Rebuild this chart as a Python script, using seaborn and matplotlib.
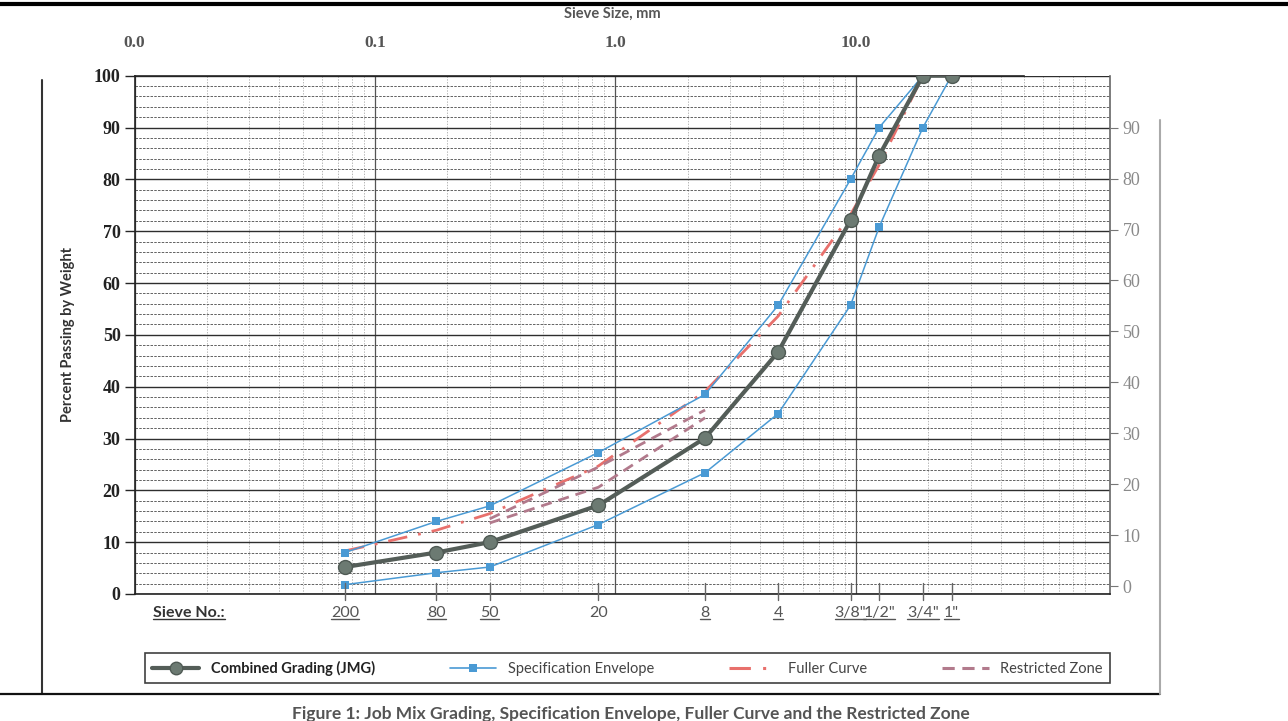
import numpy as np
import pandas as pd
import seaborn as sns
import matplotlib.pyplot as plt
from matplotlib.lines import Line2D
from matplotlib.ticker import FixedLocator, NullFormatter, LogLocator

# sieve data (size in mm, label on chart)
sieve_labels = ['200', '80', '50', '20', '8', '4', '3/8"', '1/2"', '3/4"', '1"']
sieve_mm = [0.075, 0.18, 0.3, 0.85, 2.36, 4.75, 9.5, 12.5, 19.0, 25.0]
sieve_underlined = [True, True, True, False, True, True, True, True, True, True]

# percent passing
jmg = [5.2, 8.0, 10.0, 17.1, 30.1, 46.7, 72.1, 84.6, 100, 100]
spec_upper = [8.0, 14.0, 17.0, 27.3, 38.5, 55.7, 80.0, 90.0, 100]
spec_lower = [1.8, 4.1, 5.2, 13.4, 23.4, 34.8, 55.7, 70.8, 90.0, 100]
fuller = [8.3, 12.3, 15.5, 24.7, 39.1, 53.6, 73.2, 82.8, 100]
rz_mm = [0.3, 0.85, 2.36]
rz_upper = [14.5, 24.5, 35.5]
rz_lower = [13.7, 20.6, 34.0]

top_ticks = [0.01, 0.1, 1.0, 10.0]
top_labels = ['0.0', '0.1', '1.0', '10.0']

jmg_col = '#545d58'
spec_col = '#4a9ad4'
fuller_col = '#e8706c'
rz_col = '#b27a8c'

sns.set_style('white')
plt.rcParams['font.family'] = ['Lato', 'DejaVu Sans']

fig = plt.figure(figsize=(12.88, 7.21), dpi=100)
ax = fig.add_axes([134.5 / 1288, 1 - 594 / 721, (1110 - 134.5) / 1288, (594 - 75.7) / 721])
ax.set_xscale('log')
ax.set_xlim(0.01, 114)
ax.set_ylim(0, 100)

# grid
ax.set_yticks(np.arange(0, 101, 10))
ax.yaxis.set_minor_locator(FixedLocator(np.arange(0, 101, 2)))
ax.grid(True, which='major', axis='y', color='#2e2e2e', lw=1.0, ls='-')
ax.grid(True, which='minor', axis='y', color='#4a4a4a', lw=0.6, ls=(0, (3, 1.5)))
ax.xaxis.set_major_locator(FixedLocator([0.1, 1, 10]))
ax.xaxis.set_minor_locator(LogLocator(base=10, subs=np.arange(2, 10), numticks=20))
ax.grid(True, which='major', axis='x', color='#555555', lw=0.9, ls='-')
ax.grid(True, which='minor', axis='x', color='#9a9a9a', lw=0.5, ls=(0, (2, 2)))
ax.set_axisbelow(True)

# curves
sns.lineplot(x=sieve_mm[:len(spec_upper)], y=spec_upper, ax=ax, color=spec_col, lw=1.1,
             marker='s', markersize=6, markeredgewidth=0, sort=False, zorder=4)
sns.lineplot(x=sieve_mm, y=spec_lower, ax=ax, color=spec_col, lw=1.1,
             marker='s', markersize=6, markeredgewidth=0, sort=False, zorder=4)
sns.lineplot(x=sieve_mm[:len(fuller)], y=fuller, ax=ax, color=fuller_col, lw=2.0,
             linestyle=(0, (7, 4, 1, 4)), sort=False, zorder=3)
sns.lineplot(x=rz_mm, y=rz_upper, ax=ax, color=rz_col, lw=2.0,
             linestyle=(0, (4, 2.5)), sort=False, zorder=3)
sns.lineplot(x=rz_mm, y=rz_lower, ax=ax, color=rz_col, lw=2.0,
             linestyle=(0, (4, 2.5)), sort=False, zorder=3)
sns.lineplot(x=sieve_mm, y=jmg, ax=ax, color=jmg_col, lw=3.0, marker='o', markersize=10,
             markerfacecolor='#6c7a72', markeredgecolor='#4f5a54', markeredgewidth=1,
             sort=False, zorder=5)

# axes styling
for s in ['left', 'bottom', 'top', 'right']:
    ax.spines[s].set_color('#222222')
    ax.spines[s].set_linewidth(1.2)
ax.spines['top'].set_bounds(0.01, 50)
ax.spines['right'].set_color('#666666')

ax.set_yticklabels([str(v) for v in range(0, 101, 10)], family='Liberation Serif',
                   fontweight='bold', fontsize=13, color='#222222')
ax.tick_params(axis='y', which='major', direction='out', length=7, width=1, pad=3, left=True)
ax.tick_params(axis='y', which='minor', length=0)
ax.set_ylabel('Percent Passing by Weight', fontsize=10.5, fontweight='bold', color='#333333')
ax.yaxis.set_label_coords((75 - 134.5) / 975.5, 0.5)

# top axis in mm
ax.xaxis.set_minor_formatter(NullFormatter())
ax.set_xticks(top_ticks)
ax.set_xticklabels(top_labels, family='Liberation Serif', fontweight='bold',
                   fontsize=12.5, color='#555555')
ax.xaxis.tick_top()
ax.tick_params(axis='x', which='both', top=False, bottom=False, length=0, pad=18)
ax.text(0.49, 1.12, 'Sieve Size, mm', transform=ax.transAxes, ha='center', va='center',
        fontsize=10.5, fontweight='bold', color='#555555')

# right axis
ax2 = ax.twinx()
ax2.set_ylim(-1.56, 100.2)
ax2.set_yticks(np.arange(0, 91, 10))
ax2.set_yticklabels([str(v) for v in range(0, 91, 10)], family='Liberation Serif',
                    fontsize=13, color='#8a8a8a')
ax2.tick_params(axis='y', direction='out', length=6, color='#777777', pad=3)
for s in ['left', 'bottom', 'top', 'right']:
    ax2.spines[s].set_visible(False)

# bottom sieve ticks and labels
tr = ax.get_xaxis_transform()
for mm in sieve_mm:
    ax.plot([mm, mm], [-0.012, 0.022], transform=tr, color='#666666', lw=1.0,
            clip_on=False, zorder=6)
sieve_texts = []
for mm, lab in zip(sieve_mm, sieve_labels):
    t = ax.text(mm, -0.036, lab, transform=tr, ha='center', va='center',
                fontsize=11.5, color='#555555')
    sieve_texts.append(t)
sieve_hdr = ax.text(0.056, -0.036, 'Sieve No.:', transform=ax.transAxes, ha='center',
                    va='center', fontsize=11.5, fontweight='bold', color='#333333')

# legend
handles = [
    Line2D([], [], color=jmg_col, lw=3, marker='o', markersize=9,
           markerfacecolor='#6c7a72', markeredgecolor='#4f5a54'),
    Line2D([], [], color=spec_col, lw=1.2, marker='s', markersize=6, markeredgewidth=0),
    Line2D([], [], color=fuller_col, lw=2.2, linestyle=(0, (7, 4, 1, 4))),
    Line2D([], [], color=rz_col, lw=2.2, linestyle=(0, (4, 2.5))),
]
labels = ['Combined Grading (JMG)', 'Specification Envelope', 'Fuller Curve', 'Restricted Zone']
leg = fig.legend(handles, labels, loc='lower left',
                 bbox_to_anchor=(145 / 1288, 1 - 683 / 721, 965 / 1288, 33 / 721),
                 mode='expand', ncol=4, frameon=True, fancybox=False, edgecolor='#111111',
                 fontsize=10.5, handlelength=3.2, borderpad=0.5, borderaxespad=0)
leg.get_frame().set_linewidth(1.2)
for txt in leg.get_texts():
    txt.set_color('#444444')
leg.get_texts()[0].set_fontweight('bold')
leg.get_texts()[0].set_color('#222222')

fig.text(0.49, 1 - 706 / 721, 'Figure 1: Job Mix Grading, Specification Envelope, Fuller Curve and the Restricted Zone',
         ha='center', va='top', fontsize=12.5, fontweight='bold', color='#555555')

# page border lines from the scan
fig.add_artist(Line2D([0, 1], [1 - 4 / 721, 1 - 4 / 721], color='black', lw=3))
fig.add_artist(Line2D([42 / 1288, 42 / 1288], [1 - 80 / 721, 1 - 694 / 721], color='#333333', lw=1.5))
fig.add_artist(Line2D([0, 1160 / 1288], [1 - 694 / 721, 1 - 694 / 721], color='#111111', lw=1.6))
fig.add_artist(Line2D([1160 / 1288, 1160 / 1288], [1 - 120 / 721, 1 - 694 / 721], color='#aaaaaa', lw=1.5))

# underline the sieve labels
fig.canvas.draw()
inv = fig.transFigure.inverted()
for t, u in zip(sieve_texts + [sieve_hdr], sieve_underlined + [True]):
    if not u:
        continue
    bb = t.get_window_extent()
    (x0, y0), (x1, _) = inv.transform([(bb.x0, bb.y0 + 1), (bb.x1, bb.y0 + 1)])
    fig.add_artist(Line2D([x0, x1], [y0, y0], color=t.get_color(), lw=1.0))

fig.savefig('out.png', dpi=100)
